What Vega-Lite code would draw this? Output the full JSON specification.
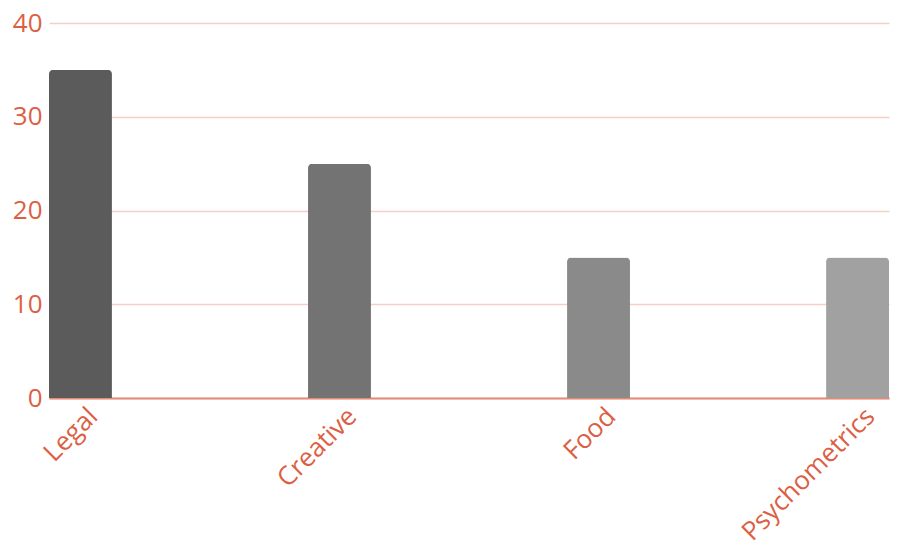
{
  "$schema": "https://vega.github.io/schema/vega-lite/v6.json",
  "width": 840,
  "height": 375,
  "autosize": "none",
  "padding": {"left": 49, "top": 23, "right": 8, "bottom": 143},
  "background": "white",
  "config": {
    "view": {"stroke": null},
    "font": "Open Sans"
  },
  "data": {
    "values": [
      {"category": "Legal", "value": 35},
      {"category": "Creative", "value": 25},
      {"category": "Food", "value": 15},
      {"category": "Psychometrics", "value": 15}
    ]
  },
  "mark": {"type": "bar", "cornerRadiusTopLeft": 4, "cornerRadiusTopRight": 4},
  "encoding": {
    "x": {
      "field": "category",
      "type": "nominal",
      "sort": null,
      "scale": {"paddingInner": 0.757, "paddingOuter": 0},
      "axis": {
        "title": null,
        "labelAngle": -45,
        "labelAlign": "right",
        "labelBaseline": "middle",
        "labelFont": "Open Sans",
        "labelFontSize": 26,
        "labelColor": "#dc5f45",
        "labelPadding": 14,
        "labelOffset": 13,
        "labelOverlap": false,
        "labelBound": false,
        "ticks": false,
        "domain": true,
        "domainColor": "#e58a77",
        "domainWidth": 2,
        "grid": false
      }
    },
    "y": {
      "field": "value",
      "type": "quantitative",
      "scale": {"domain": [0, 40]},
      "axis": {
        "title": null,
        "values": [0, 10, 20, 30, 40],
        "labelFont": "Open Sans",
        "labelFontSize": 26,
        "labelColor": "#dc5f45",
        "labelPadding": 7,
        "labelOverlap": false,
        "labelBound": false,
        "labelFlush": false,
        "ticks": false,
        "domain": false,
        "grid": true,
        "gridColor": "#f5cec5",
        "gridWidth": 1.5
      }
    },
    "color": {
      "field": "category",
      "type": "nominal",
      "sort": null,
      "scale": {"range": ["#5b5b5b", "#737373", "#8a8a8a", "#a1a1a1"]},
      "legend": null
    }
  }
}
